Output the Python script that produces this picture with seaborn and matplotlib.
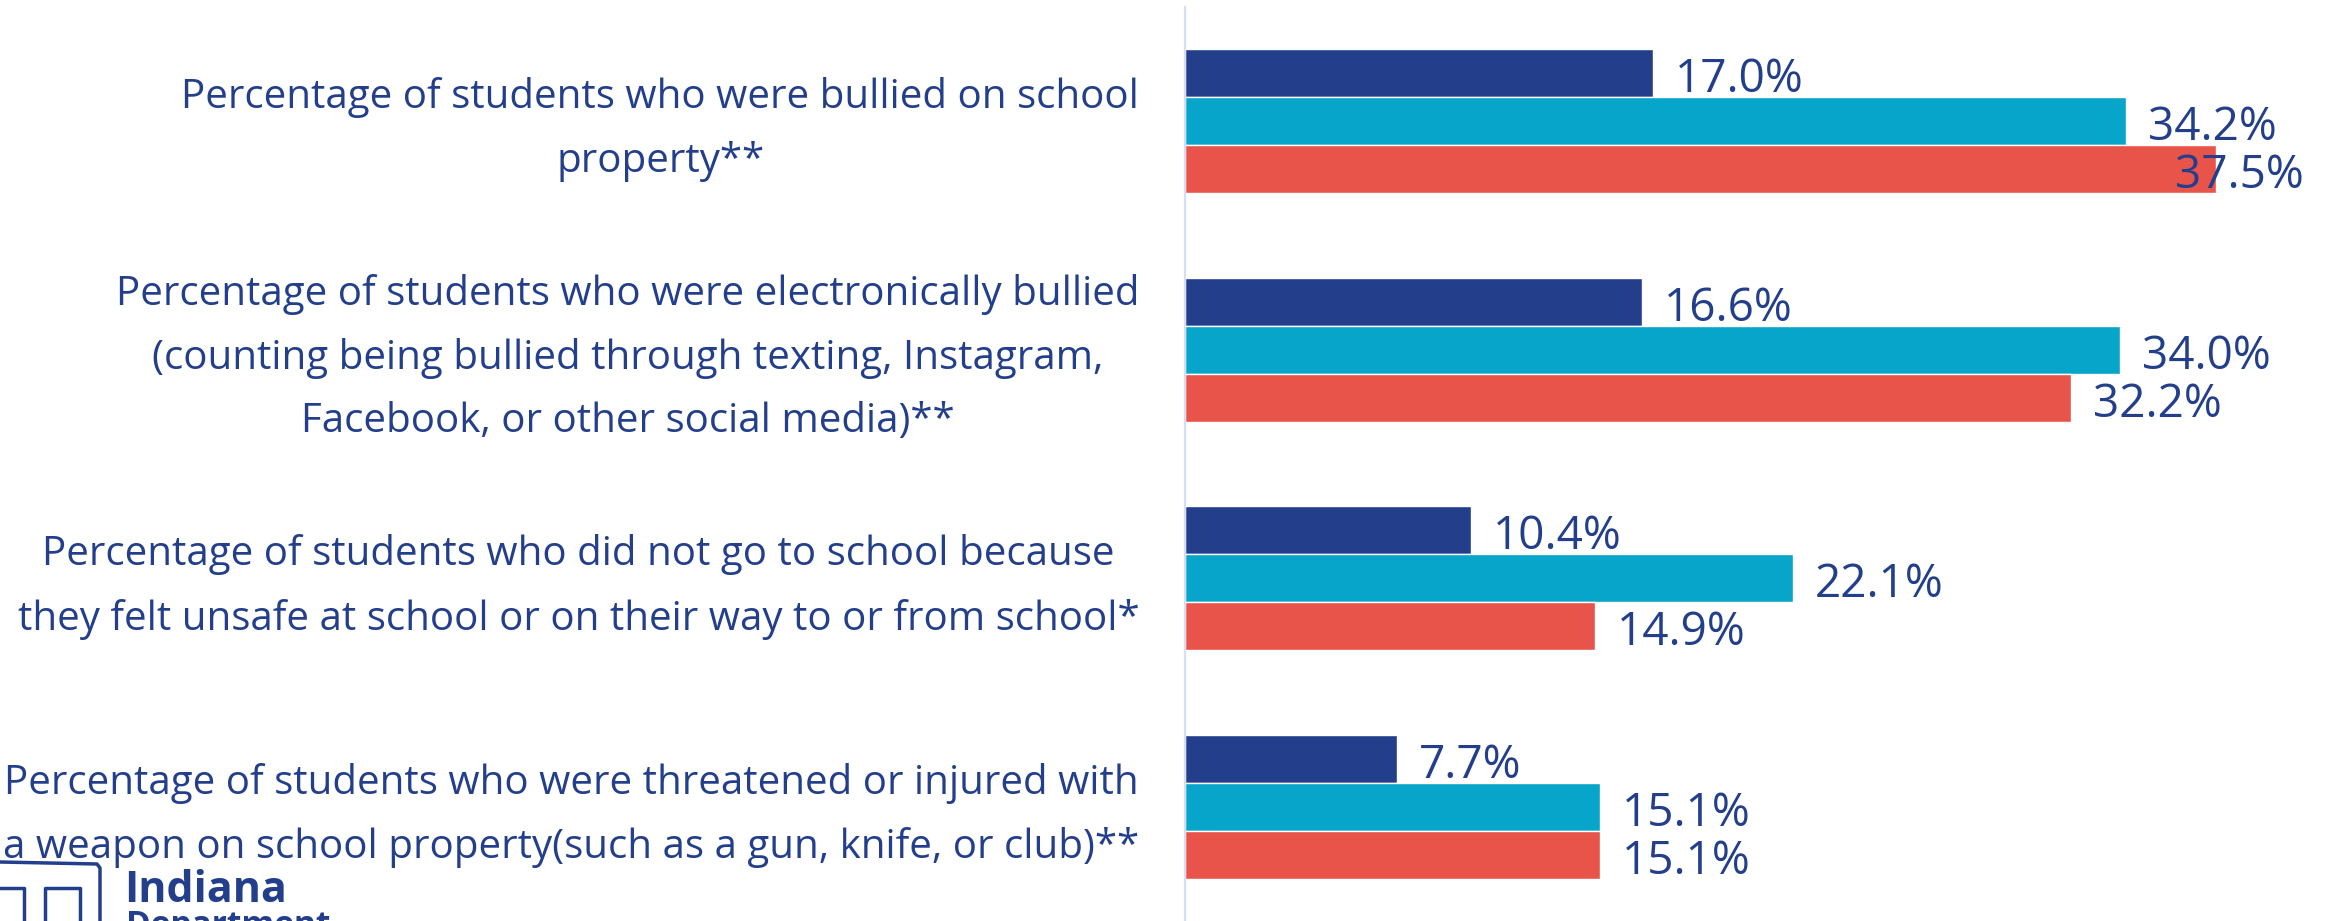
import numpy as np
import pandas as pd
import seaborn as sns
import matplotlib.pyplot as plt
import matplotlib.transforms as mtransforms
from matplotlib.lines import Line2D

# data
categories = [
    "Percentage of students who were bullied on school\nproperty**",
    "Percentage of students who were electronically bullied\n(counting being bullied through texting, Instagram,\nFacebook, or other social media)**",
    "Percentage of students who did not go to school because\nthey felt unsafe at school or on their way to or from school*",
    "Percentage of students who were threatened or injured with\na weapon on school property(such as a gun, knife, or club)**",
]
series_names = ["Series 1", "Series 2", "Series 3"]
series_1 = [17.0, 16.6, 10.4, 7.7]
series_2 = [34.2, 34.0, 22.1, 15.1]
series_3 = [37.5, 32.2, 14.9, 15.1]

colors = ["#233E8B", "#06A5C9", "#E9544A"]
text_color = "#233F8C"
axis_color = "#D6DFF2"

df = pd.DataFrame({
    "category": categories * 3,
    "group": np.repeat(series_names, len(categories)),
    "value": series_1 + series_2 + series_3,
})

W, H = 2331, 921
sns.set_style("white")
plt.rcParams["font.family"] = ["Open Sans", "DejaVu Sans"]

fig = plt.figure(figsize=(W / 100, H / 100), dpi=100)
ax = fig.add_axes([1185 / W, 0, 1 - 1185 / W, 1 - 7 / H])

sns.barplot(data=df, y="category", x="value", hue="group", order=categories,
            hue_order=series_names, palette=colors, orient="h", width=0.63,
            saturation=1, legend=False, ax=ax)

xmax = 41.67
ax.set_xlim(0, xmax)
ax.set_ylim(len(categories) - 0.5, -0.5)

# value labels
for container, vals in zip(ax.containers, [series_1, series_2, series_3]):
    for bar, v in zip(container, vals):
        yc = bar.get_y() + bar.get_height() / 2 + 0.03
        label = f"{v:.1f}%"
        if v + 4.5 > xmax:
            ax.text(xmax - 1.0, yc, label, ha="right", va="center",
                    fontsize=33, color=text_color)
        else:
            ax.text(v + 0.8, yc, label, ha="left", va="center",
                    fontsize=33, color=text_color)

# axis styling
for s in ["top", "right", "bottom"]:
    ax.spines[s].set_visible(False)
ax.spines["left"].set_color(axis_color)
ax.spines["left"].set_linewidth(1.6)
ax.set_xticks([])
ax.set_xlabel("")
ax.set_ylabel("")
ax.set_yticks(range(len(categories)))
ax.set_yticklabels(categories)
ax.set_yticks(np.arange(-0.5, len(categories)), minor=True)
ax.tick_params(axis="y", which="major", length=0, pad=33)
ax.tick_params(axis="y", which="minor", length=10, width=1.6, color=axis_color)
shift_up = mtransforms.ScaledTranslation(0, 8 / 100, fig.dpi_scale_trans)
for lab in ax.get_yticklabels():
    lab.set_fontsize(29)
    lab.set_color(text_color)
    lab.set_multialignment("center")
    lab.set_linespacing(1.75)
    lab.set_transform(lab.get_transform() + shift_up)

# logo in the bottom left corner
def px(x, y):
    return x / W, 1 - y / H

logo_lines = [
    [(0, 862), (97, 864), (100, 868), (100, 925)],
    [(0, 888), (24, 888), (24, 925)],
    [(45, 925), (45, 888), (80, 888), (80, 925)],
]
for pts in logo_lines:
    xs, ys = zip(*[px(*p) for p in pts])
    fig.add_artist(Line2D(xs, ys, transform=fig.transFigure,
                          color=text_color, lw=2.5))

fig.text(*px(124, 902), "Indiana", fontsize=31, fontweight="bold",
         color=text_color, ha="left", va="baseline")
fig.text(*px(126, 934), "Department", fontsize=24, fontweight="bold",
         color=text_color, ha="left", va="baseline")

fig.savefig("out.png", dpi=100)
